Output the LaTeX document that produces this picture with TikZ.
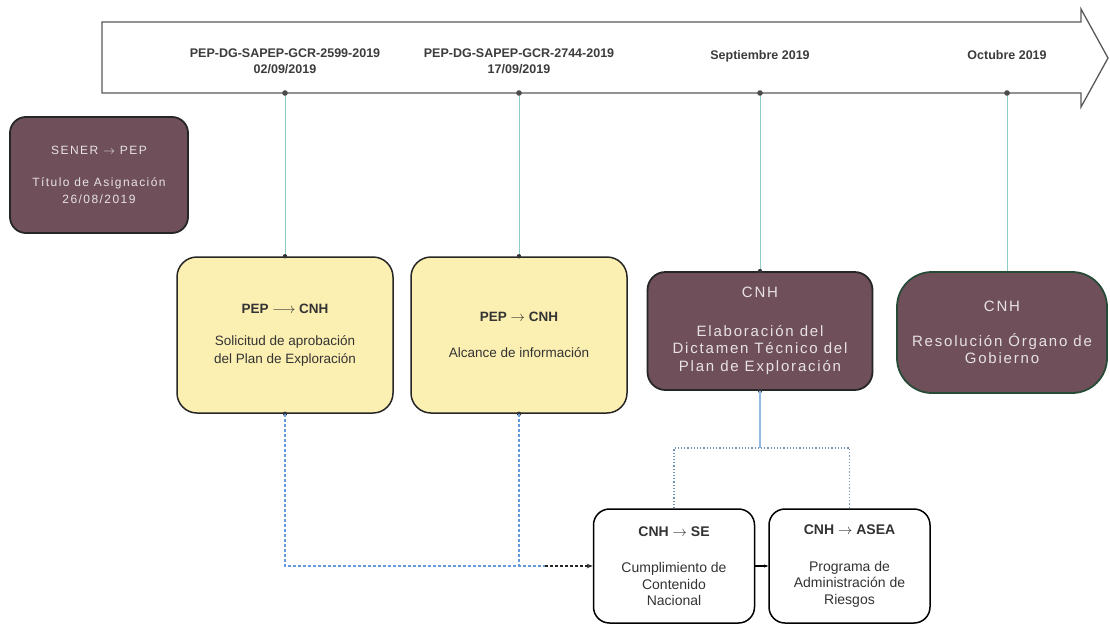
\documentclass[tikz,border=0pt]{standalone}
\usepackage{fontspec}
\setmainfont{Liberation Sans}
\newfontfamily\spaced[LetterSpace=12]{Liberation Sans}
\usetikzlibrary{arrows.meta}

\definecolor{mauve}{RGB}{111,80,90}
\definecolor{paleyellow}{RGB}{252,239,178}
\definecolor{tealline}{RGB}{140,205,198}
\definecolor{dashblue}{RGB}{100,155,220}
\definecolor{boxgreen}{RGB}{40,75,55}
\definecolor{labelgray}{RGB}{60,60,60}
\definecolor{palegray}{RGB}{232,226,228}

\begin{document}
\begin{tikzpicture}[x=1pt,y=-1pt,
  mauvebox/.style={draw=black!85, line width=1.8pt, fill=mauve, rounded corners=18pt,
    text=palegray, align=center, font=\spaced\fontsize{15}{17.5}\selectfont},
  yellowbox/.style={draw=black!85, line width=1.5pt, fill=paleyellow, rounded corners=20pt,
    text=black!80, align=center, minimum width=216pt, minimum height=156pt,
    font=\fontsize{13.5}{18}\selectfont},
  whitebox/.style={draw=black, line width=1.5pt, fill=white, rounded corners=16pt,
    text=black!80, align=center, minimum width=161pt, minimum height=114pt,
    font=\fontsize{14}{16.5}\selectfont},
  datelabel/.style={font=\bfseries\fontsize{12.5}{16}\selectfont, text=labelgray, align=center},
  bluedash/.style={draw=dashblue, line width=1.2pt, dash pattern=on 3pt off 2pt}
]
\useasboundingbox (0,0) rectangle (1110,624);

% Timeline arrow
\draw[draw=black!65, line width=1.3pt, fill=white]
  (102,22) -- (1081,22) -- (1081,9) -- (1108,58) -- (1081,107) -- (1081,93) -- (102,93) -- cycle;

% Dots on the timeline
\foreach \n/\x in {1/285,2/519,3/760,4/1007}
{
    \coordinate (t\n) at (\x,93);
}

% Dates
\node[datelabel] (d1) at (285,61) {PEP-DG-SAPEP-GCR-2599-2019\\02/09/2019};
\node[datelabel] (d2) at (519,61) {PEP-DG-SAPEP-GCR-2744-2019\\17/09/2019};
\node[datelabel] (d3) at (760,56) {Septiembre 2019};
\node[datelabel] (d4) at (1007,55) {Octubre 2019};

% Boxes
\node[mauvebox, minimum width=178pt, minimum height=116pt, rounded corners=16pt,
  font=\spaced\fontsize{12}{17}\selectfont] (sener) at (99,175)
  {SENER $\rightarrow$ PEP\\[15pt]Título de Asignación\\26/08/2019};
\node[yellowbox] (yel1) at (285,335)
  {\textbf{PEP $\longrightarrow$ CNH}\\[14pt]Solicitud de aprobación\\del Plan de Exploración};
\node[yellowbox] (yel2) at (519,335)
  {\textbf{PEP $\rightarrow$ CNH}\\[18pt]Alcance de información};
\node[mauvebox, minimum width=225pt, minimum height=118pt] (cnh1) at (760,331)
  {CNH\\[21pt]Elaboración del\\Dictamen Técnico del\\Plan de Exploración};
\node[mauvebox, draw=boxgreen, minimum width=210pt, minimum height=121pt, rounded corners=35pt] (cnh2) at (1002,332.5)
  {CNH\\[17.5pt]Resolución Órgano de\\Gobierno};
\node[whitebox] (se) at (674,566)
  {\textbf{CNH $\rightarrow$ SE}\\[20pt]Cumplimiento de\\Contenido\\Nacional};
\node[whitebox] (asea) at (849.5,566)
  {\textbf{CNH $\rightarrow$ ASEA}\\[20pt]Programa de\\Administración de\\Riesgos};

% Lines from the timeline
\draw[tealline, line width=1pt] (t1) -- (yel1.north);
\draw[tealline, line width=1pt] (t2) -- (yel2.north);
\draw[tealline, line width=1pt] (t3) -- (cnh1.north);
\draw[tealline, line width=1pt] (t4) -- (t4 |- cnh2.north);
\foreach \n in {1,...,4}
{
    \fill[black!70] (t\n) circle (2.8pt);
}
\foreach \b in {yel1,yel2,cnh1}
{
    \fill[black!80] (\b.north) circle (2.2pt);
    \fill[black!80] (\b.south) circle (2.2pt);
}

% Requests to CNH -> SE
\coordinate (join) at (545,566);
\draw[bluedash] (yel1.south) |- (join);
\draw[bluedash] (yel2.south) -- (yel2.south |- join);
\draw[black!85, line width=1.2pt, dash pattern=on 3pt off 2pt, -{Stealth[length=6pt]}] (join) -- (se.west);

% Dictamen to SE and ASEA
\coordinate (split) at (760,448);
\draw[dashblue!70, line width=1.3pt] (cnh1.south) -- (split);
\draw[dashblue!60!gray, line width=1.2pt, dotted] (se.north) |- (split) -| (asea.north);
\draw[black, line width=1.2pt, -{Stealth[length=4pt]}] (se.east) -- (asea.west);

\end{tikzpicture}
\end{document}
